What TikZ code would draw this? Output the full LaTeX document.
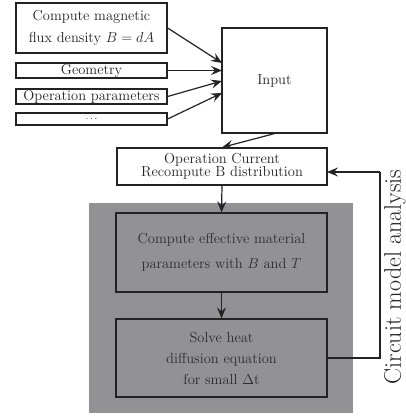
\documentclass[tikz,border=0pt]{standalone}
\usepackage{fontspec}
\usetikzlibrary{arrows.meta}
\definecolor{panelgray}{RGB}{145,145,150}
\definecolor{inkdark}{RGB}{35,35,35}
\definecolor{inkgray}{RGB}{45,45,48}
\begin{document}
\begin{tikzpicture}[x=1pt,y=1pt,
  txt/.style={font=\fontsize{14.5}{15}\selectfont, text=inkdark},
  wbox/.style={draw=inkdark, line width=1.2pt, fill=white, inner sep=0pt, align=center, txt},
  gbox/.style={draw=inkdark, line width=1.2pt, fill=panelgray, inner sep=0pt, align=center, txt, text=inkgray},
  arr/.style={draw=inkdark, line width=1.2pt, -{Stealth[length=11pt,width=9pt,inset=4pt]}},
  ln/.style={draw=inkdark, line width=1.2pt}]
\useasboundingbox (0,0) rectangle (405,417);
\fill[white] (0,0) rectangle (405,417);

% left input boxes
\node[wbox, minimum width=151pt, minimum height=50pt] (flux) at (91.5,389)
  {Compute magnetic\\[7pt] flux density $B=dA$};
\node[wbox, minimum width=151pt, minimum height=15pt] (geo) at (91.5,346.5) {Geometry};
\node[wbox, minimum width=151pt, minimum height=15pt] (par) at (91.5,320.5) {Operation parameters};
\node[wbox, minimum width=151pt, minimum height=12pt] (dots) at (91.5,298) {\fontsize{10}{10}\selectfont$\cdots$};

% input box
\node[wbox, minimum width=105pt, minimum height=105pt] (input) at (274.5,336.5) {Input};
\coordinate (in1) at (222,354);
\coordinate (in2) at (222,346.5);
\coordinate (in3) at (222,336);
\coordinate (in4) at (222,324);

\draw[arr] (flux.east) -- (in1);
\draw[arr] (geo.east) -- (in2);
\draw[arr] (par.east) -- (in3);
\draw[arr] (dots.east) -- (in4);

% operation current box
\node[wbox, minimum width=210pt, minimum height=37pt] (opcur) at (222,250.5)
  {Operation Current\\[-1.5pt] Recompute B distribution};
\draw[arr] (input.south) -- (opcur.north);

% gray panel
\fill[panelgray] (89,4) rectangle (353,214);

\node[gbox, minimum width=211pt, minimum height=79pt] (comp) at (221.5,164.5)
  {Compute effective material\\[10pt] parameters with $B$ and $T$};
\node[gbox, minimum width=211pt, minimum height=78pt] (solve) at (221.5,59)
  {Solve heat\\[6pt] diffusion equation\\[6pt] for small $\Delta$t};

\draw[arr] (opcur.south) -- (comp.north);
\draw[arr] (comp.south) -- (solve.north);

% feedback loop
\coordinate (c1) at (380,59);
\coordinate (c2) at (380,245);
\coordinate (c3) at (327,245);
\draw[ln] (solve.east) -- (c1) -- (c2);
\draw[arr] (c2) -- (c3);

\node[rotate=90, font=\fontsize{24}{28}\selectfont, text=inkdark] (lab) at (395,140) {Circuit model analysis};
\end{tikzpicture}
\end{document}
